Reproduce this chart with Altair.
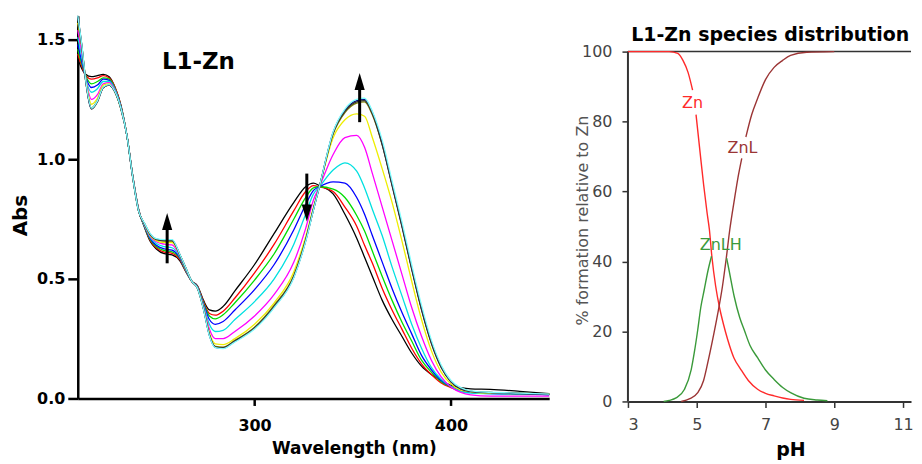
import altair as alt
import pandas as pd

# ---------------- left panel: UV-vis titration spectra ----------------
wavelength = [210, 212, 214, 217, 220, 223, 226, 229, 232, 235, 238, 241, 244, 247, 250, 254, 258, 262, 265, 268,
              271, 274, 277, 280, 284, 290, 300, 310, 320, 326, 330, 333, 340, 346, 352, 356, 360, 365, 370, 375,
              380, 385, 390, 395, 400, 405, 410, 420, 435, 450]

abs_black = [1.42, 1.38, 1.355, 1.345, 1.35, 1.355, 1.345, 1.30, 1.225, 1.10, 0.93, 0.79, 0.715, 0.655, 0.625, 0.605, 0.60, 0.575, 0.53, 0.49,
             0.47, 0.41, 0.37, 0.365, 0.385, 0.45, 0.56, 0.69, 0.82, 0.885, 0.90, 0.89, 0.855, 0.77, 0.67, 0.59, 0.51, 0.41, 0.33, 0.26,
             0.19, 0.135, 0.10, 0.075, 0.055, 0.045, 0.04, 0.038, 0.03, 0.02]
abs_red = [1.44, 1.39, 1.35, 1.335, 1.34, 1.35, 1.34, 1.30, 1.222, 1.10, 0.93, 0.788, 0.717, 0.66, 0.63, 0.612, 0.607, 0.58, 0.532, 0.49,
           0.468, 0.405, 0.355, 0.348, 0.365, 0.42, 0.525, 0.645, 0.785, 0.865, 0.89, 0.885, 0.865, 0.80, 0.72, 0.64, 0.565, 0.46, 0.37, 0.29,
           0.21, 0.145, 0.10, 0.065, 0.045, 0.03, 0.025, 0.022, 0.02, 0.018]
abs_green = [1.46, 1.40, 1.35, 1.315, 1.325, 1.34, 1.335, 1.295, 1.22, 1.10, 0.928, 0.787, 0.718, 0.663, 0.635, 0.618, 0.613, 0.585, 0.534, 0.49,
             0.466, 0.40, 0.345, 0.333, 0.35, 0.40, 0.495, 0.605, 0.75, 0.84, 0.88, 0.885, 0.875, 0.84, 0.765, 0.70, 0.615, 0.51, 0.41, 0.32,
             0.24, 0.16, 0.11, 0.07, 0.048, 0.032, 0.025, 0.022, 0.02, 0.018]
abs_blue = [1.48, 1.41, 1.345, 1.30, 1.31, 1.335, 1.33, 1.29, 1.218, 1.10, 0.927, 0.786, 0.72, 0.667, 0.64, 0.625, 0.62, 0.588, 0.536, 0.49,
            0.465, 0.395, 0.33, 0.31, 0.322, 0.37, 0.455, 0.56, 0.705, 0.81, 0.87, 0.885, 0.905, 0.90, 0.84, 0.77, 0.68, 0.57, 0.46, 0.36,
            0.27, 0.18, 0.12, 0.075, 0.05, 0.032, 0.025, 0.02, 0.018, 0.016]
abs_cyan = [1.51, 1.43, 1.34, 1.28, 1.295, 1.325, 1.325, 1.29, 1.215, 1.10, 0.926, 0.785, 0.722, 0.672, 0.648, 0.635, 0.63, 0.592, 0.538, 0.49,
            0.463, 0.39, 0.31, 0.28, 0.285, 0.33, 0.405, 0.50, 0.645, 0.77, 0.855, 0.885, 0.955, 0.985, 0.95, 0.88, 0.79, 0.68, 0.55, 0.43,
            0.31, 0.21, 0.13, 0.08, 0.05, 0.03, 0.022, 0.02, 0.018, 0.016]
abs_magenta = [1.54, 1.45, 1.34, 1.25, 1.27, 1.315, 1.32, 1.285, 1.212, 1.10, 0.925, 0.784, 0.725, 0.677, 0.655, 0.645, 0.642, 0.596, 0.54, 0.49,
               0.462, 0.385, 0.29, 0.25, 0.25, 0.28, 0.345, 0.435, 0.57, 0.71, 0.83, 0.885, 1.02, 1.09, 1.10, 1.05, 0.94, 0.80, 0.66, 0.52,
               0.38, 0.26, 0.16, 0.09, 0.048, 0.025, 0.015, 0.01, 0.01, 0.01]
abs_yellow = [1.57, 1.47, 1.34, 1.23, 1.255, 1.31, 1.315, 1.28, 1.21, 1.10, 0.924, 0.783, 0.727, 0.68, 0.66, 0.652, 0.652, 0.598, 0.542, 0.49,
              0.461, 0.38, 0.275, 0.228, 0.225, 0.25, 0.31, 0.40, 0.53, 0.675, 0.80, 0.885, 1.09, 1.165, 1.19, 1.18, 1.09, 0.96, 0.82, 0.66,
              0.49, 0.33, 0.20, 0.11, 0.06, 0.035, 0.028, 0.022, 0.02, 0.018]
abs_olive = [1.59, 1.475, 1.33, 1.215, 1.245, 1.30, 1.31, 1.28, 1.21, 1.10, 0.923, 0.782, 0.73, 0.684, 0.664, 0.658, 0.658, 0.60, 0.545, 0.49,
             0.46, 0.376, 0.268, 0.218, 0.215, 0.243, 0.298, 0.39, 0.515, 0.665, 0.795, 0.885, 1.105, 1.195, 1.235, 1.24, 1.185, 1.06, 0.895, 0.725,
             0.545, 0.375, 0.235, 0.135, 0.072, 0.042, 0.03, 0.025, 0.022, 0.018]
abs_navy = [1.595, 1.478, 1.332, 1.212, 1.242, 1.30, 1.31, 1.28, 1.21, 1.10, 0.923, 0.782, 0.73, 0.686, 0.666, 0.662, 0.662, 0.601, 0.545, 0.49,
            0.46, 0.374, 0.264, 0.214, 0.21, 0.238, 0.293, 0.383, 0.508, 0.658, 0.79, 0.885, 1.112, 1.205, 1.245, 1.25, 1.195, 1.065, 0.895, 0.725,
            0.545, 0.375, 0.235, 0.132, 0.07, 0.04, 0.03, 0.024, 0.02, 0.016]
abs_dark = [1.60, 1.48, 1.33, 1.21, 1.24, 1.30, 1.31, 1.28, 1.21, 1.10, 0.923, 0.782, 0.73, 0.685, 0.665, 0.66, 0.66, 0.60, 0.545, 0.49,
            0.46, 0.375, 0.265, 0.215, 0.212, 0.24, 0.295, 0.385, 0.51, 0.66, 0.79, 0.885, 1.11, 1.20, 1.24, 1.245, 1.19, 1.06, 0.89, 0.72,
            0.54, 0.37, 0.23, 0.13, 0.07, 0.04, 0.03, 0.025, 0.022, 0.018]
abs_lightcyan = [1.60, 1.482, 1.334, 1.214, 1.244, 1.302, 1.312, 1.282, 1.212, 1.10, 0.924, 0.783, 0.732, 0.688, 0.668, 0.664, 0.664, 0.602, 0.546, 0.49,
                 0.46, 0.373, 0.262, 0.212, 0.208, 0.236, 0.29, 0.38, 0.505, 0.655, 0.788, 0.885, 1.115, 1.21, 1.25, 1.255, 1.20, 1.08, 0.91, 0.74,
                 0.56, 0.39, 0.245, 0.14, 0.075, 0.045, 0.032, 0.026, 0.022, 0.018]

spectra_names = ["s01", "s02", "s03", "s04", "s05", "s06", "s07", "s08", "s09", "s10", "s11"]
spectra_colors = ["#000000", "#ff0000", "#00dd00", "#0000ff", "#00e0e0", "#ff00ff", "#eeee00",
                  "#808000", "#000080", "#333333", "#80ffff"]
spectra_values = [abs_black, abs_red, abs_green, abs_blue, abs_cyan, abs_magenta, abs_yellow,
                  abs_olive, abs_navy, abs_dark, abs_lightcyan]

# arrows: wavelength, shaft start, shaft end, head centre, direction
arrow_wl = [255.5, 326.6, 353.5]
arrow_from = [0.565, 0.94, 1.155]
arrow_to = [0.74, 0.78, 1.325]
arrow_head = [0.74, 0.775, 1.325]
arrow_dir = ["up", "down", "up"]

# ---------------- right panel: species distribution ----------------
zn_ph = [3.0, 4.2, 4.45, 4.6, 4.75, 4.88, None, 4.98, 5.1, 5.2, 5.3, 5.37, 5.44, 5.55, 5.66, 5.78, 5.9, 6.08, 6.28, 6.5, 6.77, 7.0, 7.25, 7.5, 7.73, 8.12]
zn_pct = [100, 100, 99.5, 97.5, 94, 89, None, 82, 71, 62, 54, 49, 41.5, 33, 27, 22, 17.7, 12.5, 9.2, 6, 3.5, 2.3, 1.6, 1.0, 0.6, 0.3]
znl_ph = [4.55, 4.8, 5.03, 5.2, 5.32, 5.45, 5.61, 5.75, 5.86, 5.96, 6.1, 6.2, 6.31, None, 6.43, 6.6, 6.77, 7.0, 7.25, 7.5, 7.73, 8.2, 9.0]
znl_pct = [0, 0.8, 2.5, 6, 11, 17, 25, 33, 41, 49, 58, 64, 69.5, None, 75.6, 82, 86.6, 92, 95.5, 97.5, 98.9, 99.8, 100]
znlh_ph = [4.04, 4.2, 4.4, 4.64, 4.84, 4.93, 5.03, 5.12, 5.22, 5.33, 5.43, None, 5.87, 5.95, 6.09, 6.25, 6.38, 6.55, 6.77, 7.0, 7.25, 7.5, 7.73, 8.12, 8.5, 8.8]
znlh_pct = [0, 0.3, 1.0, 3.4, 9.1, 14, 20.5, 27, 32, 37.5, 41.5, None, 41, 37, 30, 24, 20.5, 16, 12.5, 9, 6.3, 4, 2.5, 0.9, 0.4, 0.2]

species_names = ["Zn", "ZnL", "ZnLH"]
species_colors = ["#ff2a2a", "#9b3535", "#3a9a3a"]
label_ph = [4.88, 6.33, 5.70]
label_pct = [85.2, 72.5, 44.7]

# ---------------- tables ----------------
rows = []
for name, vals in zip(spectra_names, spectra_values):
    for w, a in zip(wavelength, vals):
        rows.append({"series": name, "wl": w, "abs": a})
spec_df = pd.DataFrame(rows)

arrow_df = pd.DataFrame({"wl": arrow_wl, "y1": arrow_from, "y2": arrow_to, "head": arrow_head, "dir": arrow_dir})

srows = []
for name, phs, pcts in [("Zn", zn_ph, zn_pct), ("ZnL", znl_ph, znl_pct), ("ZnLH", znlh_ph, znlh_pct)]:
    seg = 0
    for p, v in zip(phs, pcts):
        if p is None:
            seg += 1
            continue
        srows.append({"species": name, "seg": f"{name}_{seg}", "pH": p, "pct": v})
sp_df = pd.DataFrame(srows)
lab_df = pd.DataFrame({"species": species_names, "pH": label_ph, "pct": label_pct})

BOLD = "DejaVu Sans"
LW, LH = 473, 384
RW, RH = 284, 387

xs = alt.Scale(domain=[210, 450], nice=False, zero=False)
ys = alt.Scale(domain=[0, 1.6], nice=False)

lines = alt.Chart(spec_df).mark_line(strokeWidth=1.3, interpolate="monotone").encode(
    x=alt.X("wl:Q", scale=xs, axis=alt.Axis(
        values=[300, 400], title="Wavelength (nm)", titleFont=BOLD, titleFontSize=17, titleFontWeight="bold",
        titleColor="black", titleX=277, titleY=55, titleBaseline="alphabetic",
        labelFont=BOLD, labelFontSize=16, labelFontWeight="bold", labelColor="black", labelPadding=12,
        tickSize=7, tickWidth=2.5, tickColor="black", domainColor="black", domainWidth=2.5, grid=False)),
    y=alt.Y("abs:Q", scale=ys, axis=alt.Axis(
        values=[0, 0.5, 1.0, 1.5], format=".1f", title="Abs", titleFont=BOLD, titleFontSize=20,
        titleFontWeight="bold", titleColor="black", titleX=-57, titleY=200, titleBaseline="middle",
        labelFont=BOLD, labelFontSize=16, labelFontWeight="bold", labelColor="black", labelPadding=3,
        tickSize=10, tickWidth=2.5, tickColor="black", domainColor="black", domainWidth=2.5, grid=False)),
    color=alt.Color("series:N", scale=alt.Scale(domain=spectra_names, range=spectra_colors), legend=None),
    order=alt.Order("wl:Q"),
)

shafts = alt.Chart(arrow_df).mark_rule(strokeWidth=3, color="black").encode(
    x="wl:Q", y="y1:Q", y2="y2:Q")
heads_up = alt.Chart(arrow_df).transform_filter("datum.dir == 'up'").mark_point(
    shape="M0,-1L0.6,1L-0.6,1Z", filled=True, size=289, color="black", opacity=1).encode(
    x="wl:Q", y="head:Q")
heads_down = alt.Chart(arrow_df).transform_filter("datum.dir == 'down'").mark_point(
    shape="M0,1L0.6,-1L-0.6,-1Z", filled=True, size=289, color="black", opacity=1).encode(
    x="wl:Q", y="head:Q")
left_title = alt.Chart(pd.DataFrame({"t": ["L1-Zn"]})).mark_text(
    font=BOLD, fontSize=23, fontWeight="bold", color="black", baseline="alphabetic", align="center").encode(
    x=alt.datum(271.4), y=alt.datum(1.379), text="t:N")

left = alt.layer(lines, shafts, heads_up, heads_down, left_title).properties(width=LW, height=LH)

# right
rxs = alt.Scale(domain=[3, 3 + RW / 34.5], nice=False, zero=False)
rys = alt.Scale(domain=[0, 100 * RH / 351], nice=False)
GRAY = "#333333"

sp_lines = alt.Chart(sp_df).mark_line(strokeWidth=1.4, interpolate="monotone").encode(
    x=alt.X("pH:Q", scale=rxs, axis=alt.Axis(
        values=[3, 4, 5, 6, 7, 8, 9, 10, 11], labelExpr="datum.value % 2 == 1 ? datum.label : ''",
        title="pH", titleFont=BOLD, titleFontSize=19, titleFontWeight="bold", titleColor="black",
        titleX=163, titleY=54, titleBaseline="alphabetic",
        labelFont="DejaVu Sans", labelFontSize=16, labelColor="#444444", labelPadding=9,
        tickSize=6, tickWidth=1.5, tickColor=GRAY, domainColor=GRAY, domainWidth=2, grid=False)),
    y=alt.Y("pct:Q", scale=rys, axis=alt.Axis(
        values=list(range(0, 101, 10)), labelExpr="datum.value % 20 == 0 ? datum.label : ''",
        title="% formation relative to Zn", titleFont="DejaVu Sans", titleFontSize=16, titleFontWeight="normal",
        titleColor="#555555", titleX=-46, titleY=205, titleBaseline="middle",
        labelFont="DejaVu Sans", labelFontSize=16, labelColor="#444444", labelPadding=10,
        tickSize=6, tickWidth=1.5, tickColor=GRAY, domain=False, grid=False)),
    color=alt.Color("species:N", scale=alt.Scale(domain=species_names, range=species_colors), legend=None),
    detail="seg:N",
    order=alt.Order("pH:Q"),
)
sp_labels = alt.Chart(lab_df).mark_text(font="DejaVu Sans", fontSize=16).encode(
    x="pH:Q", y="pct:Q", text="species:N",
    color=alt.Color("species:N", scale=alt.Scale(domain=species_names, range=species_colors), legend=None))
yline = alt.Chart(pd.DataFrame({"a": [0]})).mark_rule(color=GRAY, strokeWidth=2).encode(
    x=alt.value(0), y=alt.datum(0), y2=alt.datum(100))
topline = alt.Chart(pd.DataFrame({"a": [0]})).mark_rule(color=GRAY, strokeWidth=1.5).encode(
    x=alt.value(0), x2=alt.value(RW), y=alt.datum(100))
right_title = alt.Chart(pd.DataFrame({"t": ["L1-Zn species distribution"]})).mark_text(
    font=BOLD, fontSize=19, fontWeight="bold", color="black", baseline="alphabetic", align="center").encode(
    x=alt.datum(7.14), y=alt.datum(103.1), text="t:N")

right = alt.layer(topline, yline, sp_lines, sp_labels, right_title).properties(width=RW, height=RH)

chart = alt.hconcat(left, right, spacing=79, bounds="flush").resolve_scale(
    color="independent"
).properties(
    padding={"left": 3, "top": 4, "right": 0, "bottom": 0}
).configure(font="DejaVu Sans").configure_view(stroke=None)

chart.save("out.html", embed_options={"renderer": "svg", "actions": False})
